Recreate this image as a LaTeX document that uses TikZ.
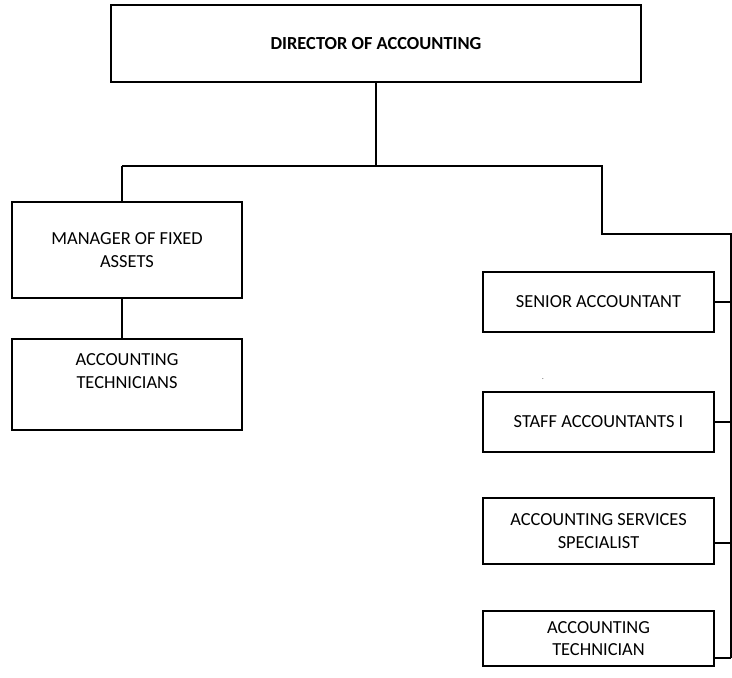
\documentclass[tikz,border=0pt]{standalone}
\usepackage{fontspec}
\setmainfont{Carlito}
\usetikzlibrary{positioning}

\tikzset{
  post/.style={draw, line width=1.1pt, align=center, inner sep=2pt,
    font=\fontsize{13.8}{16.8}\selectfont},
  link/.style={line width=1.5pt},
}

\begin{document}
\begin{tikzpicture}[x=0.75pt,y=-0.75pt]
  \useasboundingbox (0,0) rectangle (732,678);

  % boxes
  \node[post, minimum width=397.5pt, minimum height=57.75pt,
        font=\fontsize{13.8}{16.8}\selectfont\bfseries] (dir) at (376,43.5) {DIRECTOR OF ACCOUNTING};
  \node[post, minimum width=172.5pt, minimum height=72pt]    (mgr)   at (127,250)   {MANAGER OF FIXED\\ASSETS};
  \node[post, minimum width=172.5pt, minimum height=68.25pt] (techs) at (127,384.5) {};
  \node[align=center, font=\fontsize{13.8}{16.8}\selectfont] (techstxt) at ([yshift=10pt]techs.center) {ACCOUNTING\\TECHNICIANS};
  \node[post, minimum width=173.25pt, minimum height=45pt]    (sen)   at (598.5,302)   {SENIOR ACCOUNTANT};
  \node[post, minimum width=173.25pt, minimum height=45pt]    (staff) at (598.5,422)   {STAFF ACCOUNTANTS I};
  \node[post, minimum width=173.25pt, minimum height=49.5pt]  (svc)   at (598.5,531)   {ACCOUNTING SERVICES\\SPECIALIST};
  \node[post, minimum width=173.25pt, minimum height=41.25pt] (tec)   at (598.5,638.5) {ACCOUNTING\\TECHNICIAN};
  \node[font=\tiny, inner sep=0pt] (dot) at (543,379) {.};

  % connectors
  \coordinate (bus) at (376,166);
  \coordinate (lft) at (122,166);
  \coordinate (rgt) at (602,166);
  \coordinate (rcor) at (602,234);
  \coordinate (rail) at (731,234);
  \coordinate (svcend) at ([yshift=-9pt]svc.east);
  \coordinate (tecend) at ([yshift=6.75pt]tec.south east);

  \draw[link] (dir.south) -- (bus);
  \draw[link] (lft) -- (rgt) -- (rcor) -- (rail) -- (rail |- tecend);
  \draw[link] (lft) -- (lft |- mgr.north);
  \draw[link] (lft |- mgr.south) -- (lft |- techs.north);
  \draw[link] (sen.east) -- (sen.east -| rail);
  \draw[link] (staff.east) -- (staff.east -| rail);
  \draw[link] (svcend) -- (svcend -| rail);
  \draw[link] (tecend) -- (tecend -| rail);
\end{tikzpicture}
\end{document}
